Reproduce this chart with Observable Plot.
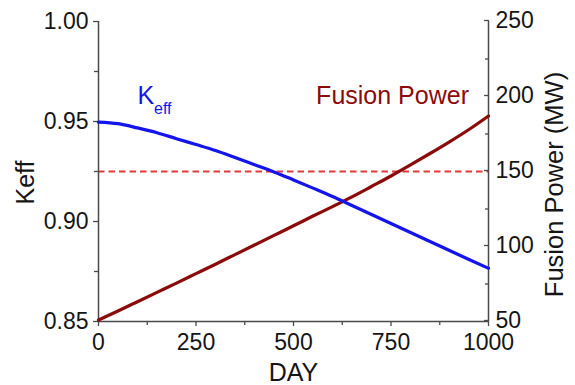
<!DOCTYPE html>
<html>
<head>
<meta charset="utf-8">
<script src="https://cdn.jsdelivr.net/npm/d3@7"></script>
<script src="https://cdn.jsdelivr.net/npm/@observablehq/plot@0.6"></script>
<style>
  html, body { margin: 0; padding: 0; background: #fff; }
  #chart { width: 575px; height: 385px; }
</style>
</head>
<body>
<div id="chart"></div>
<script>
// ---- data ----
const days = [0, 50, 100, 150, 200, 250, 300, 350, 400, 450, 500, 550, 600, 650, 700, 750, 800, 850, 900, 950, 1000];
const keff = [0.9497, 0.9489, 0.9468, 0.9444, 0.9414, 0.9385, 0.9355, 0.9320, 0.9284, 0.9248, 0.9208, 0.9167, 0.9125, 0.9080, 0.9035, 0.8990, 0.8945, 0.8900, 0.8855, 0.8810, 0.8766];
const fusionPower = [51, 57, 63.2, 69.4, 75.6, 81.9, 88.2, 94.6, 101, 107.4, 113.8, 120.3, 126.6, 133.1, 140, 147, 154.4, 162, 169.8, 178, 187];
const targetPower = [150];

const xMajor = [0, 250, 500, 750, 1000];
const xMinor = [125, 375, 625, 875];
const kMajor = [0.85, 0.90, 0.95, 1.00];
const kMinor = [0.875, 0.925, 0.975];
const pMajor = [50, 100, 150, 200, 250];
const pMinor = [75, 125, 175, 225];

const kDomain = [0.85, 1.00];
const pDomain = [50, 250];

// annotations (data coordinates)
const keffLabel = [{day: 100, k: 0.9589}];
const powerLabel = [{day: 558, k: 0.9589}];

// ---- mapping power onto Keff scale ----
const p2k = d3.scaleLinear(pDomain, kDomain);

const keffRows = days.map((d, i) => ({day: d, v: keff[i]}));
const powerRows = days.map((d, i) => ({day: d, v: p2k(fusionPower[i])}));

const FONT = "'Liberation Sans', Arial, Helvetica, sans-serif";
const AX = "#4a4a4a";
const BLUE = "#1414ec";
const DRED = "#8b0a0a";

const chart = Plot.plot({
  width: 575,
  height: 385,
  marginLeft: 98,
  marginRight: 87,
  marginTop: 21,
  marginBottom: 64,
  style: {fontFamily: FONT, color: "#151515", background: "#fff"},
  x: {domain: [0, 1000]},
  y: {domain: kDomain},
  marks: [
    // target dashed line
    Plot.ruleY(targetPower.map(p2k), {stroke: "#e03a3a", strokeWidth: 2, strokeDasharray: "6.5,4"}),
    // frame lines
    Plot.ruleX([0, 1000], {stroke: AX, strokeWidth: 1.5}),
    Plot.ruleY([kDomain[0]], {stroke: AX, strokeWidth: 1.5}),
    // axes
    Plot.axisX({ticks: xMajor, tickSize: 5, tickPadding: 7, fontSize: 23, label: null, stroke: AX, strokeWidth: 1.3, tickFormat: d => String(d)}),
    Plot.axisX({ticks: xMinor, tickSize: 4, label: null, stroke: AX, strokeWidth: 1.3, tickFormat: () => ""}),
    Plot.axisY({anchor: "left", ticks: kMajor, tickSize: 5, tickPadding: 5, fontSize: 23, label: null, stroke: AX, strokeWidth: 1.3, tickFormat: d3.format(".2f")}),
    Plot.axisY({anchor: "left", ticks: kMinor, tickSize: 4, label: null, stroke: AX, strokeWidth: 1.3, tickFormat: () => ""}),
    Plot.axisY({anchor: "right", ticks: pMajor.map(p2k), tickSize: 5, insetRight: 5, tickPadding: 7, fontSize: 23, label: null, stroke: AX, strokeWidth: 1.3, dy: -1, tickFormat: d => String(Math.round(p2k.invert(d)))}),
    Plot.axisY({anchor: "right", ticks: pMinor.map(p2k), tickSize: 4, insetRight: 4, label: null, stroke: AX, strokeWidth: 1.3, tickFormat: () => ""}),
    // series
    Plot.line(powerRows, {x: "day", y: "v", stroke: DRED, strokeWidth: 3.2, curve: "monotone-x"}),
    Plot.line(keffRows, {x: "day", y: "v", stroke: BLUE, strokeWidth: 3.2, curve: "monotone-x"}),
    // annotations
    Plot.text(keffLabel, {x: "day", y: "k", text: () => "K", fill: BLUE, fontSize: 25, textAnchor: "start", lineAnchor: "bottom"}),
    Plot.text(keffLabel, {x: "day", y: "k", text: () => "eff", fill: BLUE, fontSize: 16, textAnchor: "start", lineAnchor: "bottom", dx: 16.5, dy: 10}),
    Plot.text(powerLabel, {x: "day", y: "k", text: () => "Fusion Power", fill: DRED, fontSize: 25, textAnchor: "start", lineAnchor: "bottom"}),
    // axis titles
    Plot.text(["DAY"], {frameAnchor: "bottom", text: d => d, fontSize: 25, lineAnchor: "bottom", dy: 59, fill: "#151515"}),
    Plot.text(["Keff"], {frameAnchor: "left", text: d => d, fontSize: 25, rotate: -90, lineAnchor: "bottom", textAnchor: "middle", dx: -65, dy: 11, fill: "#151515"}),
    Plot.text(["Fusion Power (MW)"], {frameAnchor: "right", text: d => d, fontSize: 25.5, rotate: -90, lineAnchor: "bottom", textAnchor: "middle", dx: 74, dy: 13, fill: "#151515"})
  ]
});

document.getElementById("chart").appendChild(chart);
</script>
</body>
</html>
